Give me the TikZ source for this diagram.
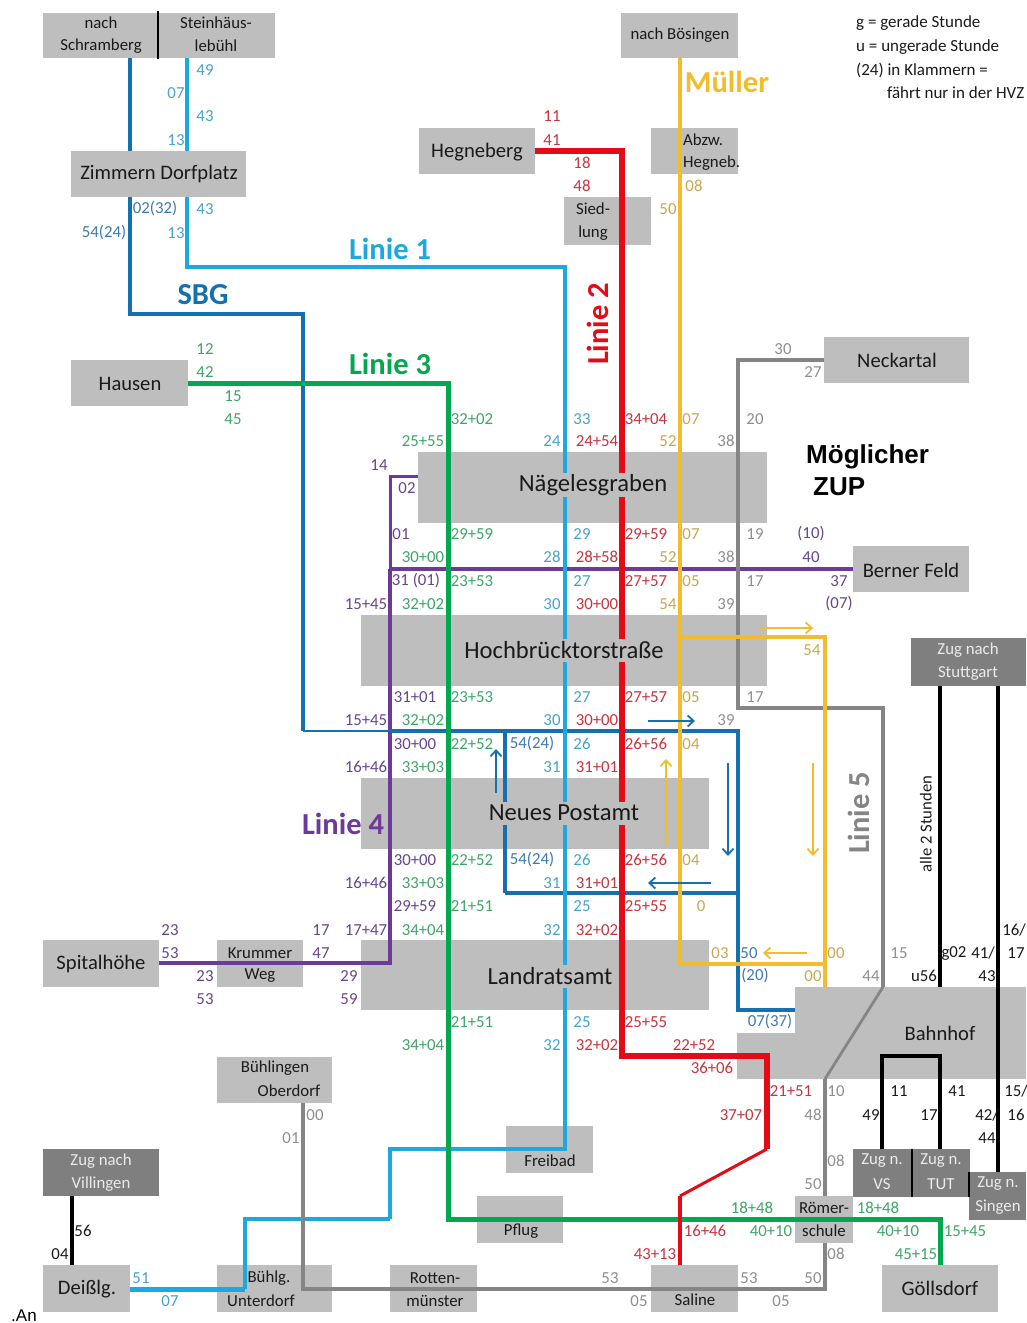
\documentclass[tikz,border=0pt]{standalone}
\usepackage{fontspec}
\setmainfont{Carlito}
\newfontfamily\arialf{Liberation Sans}
\usetikzlibrary{arrows.meta}
\definecolor{cBox}{HTML}{BEBEBE}
\definecolor{cDark}{HTML}{7F7F7F}
\definecolor{cSbg}{HTML}{1570B0}
\definecolor{cLb}{HTML}{1CA9DF}
\definecolor{cRed}{HTML}{E30B17}
\definecolor{cYel}{HTML}{F2BC2C}
\definecolor{cGrn}{HTML}{05A650}
\definecolor{cPur}{HTML}{6C3A98}
\definecolor{cGry}{HTML}{858585}
\definecolor{tb}{HTML}{3F79AC}
\definecolor{tl}{HTML}{45A3CC}
\definecolor{tr}{HTML}{C5343F}
\definecolor{ty}{HTML}{C6A650}
\definecolor{tg}{HTML}{3FA468}
\definecolor{tp}{HTML}{65468E}
\definecolor{ta}{HTML}{8E8E8E}
\definecolor{tk}{HTML}{1A1A1A}
\tikzset{
  box/.style={draw=none,fill=cBox,inner sep=0pt,outer sep=0pt},
  darkbox/.style={draw=none,fill=cDark,inner sep=0pt,outer sep=0pt},
  num/.style={inner sep=0pt,font=\fontsize{16.8}{17}\selectfont},
  stn/.style={inner sep=0pt,text=tk,font=\fontsize{16.8}{17}\selectfont},
  bigstn/.style={inner sep=1pt,minimum height=23pt,fill=cBox,text=tk,font=\fontsize{24.6}{25}\selectfont},
  midstn/.style={inner sep=0pt,text=tk,font=\fontsize{20.6}{21}\selectfont},
  wstn/.style={inner sep=0pt,text=white!92!black,font=\fontsize{16.8}{17}\selectfont},
  linelbl/.style={inner sep=0pt,font=\fontsize{30.5}{31}\selectfont\bfseries},
  legend/.style={inner sep=0pt,anchor=west,text=tk,font=\fontsize{17}{17}\selectfont},
  rt/.style={line width=#1,line cap=butt,line join=miter},
  arr/.style={line width=1.8pt,-{Straight Barb[length=6pt,width=11pt,line width=1.8pt]}}
}
\newcounter{lab}
\newcommand\bx[6][box]{%
  \pgfmathsetmacro\bw{#5-#3}\pgfmathsetmacro\bh{#6-#4}%
  \node[#1,minimum width=\bw pt,minimum height=\bh pt] (#2) at ({(#3+#5)/2},{(#4+#6)/2}) {};}
\newcommand\lrow[2]{%
  \foreach \xx/\cc/\tt in {#2}{%
    \stepcounter{lab}%
    \node[num,text=\cc] (t\thelab) at (\xx,#1) {\tt};}}
\newcommand\arw[6]{%
  \coordinate (#1a) at (#3,#4);\coordinate (#1b) at (#5,#6);
  \draw[arr,#2] (#1a) -- (#1b);}
\begin{document}
\begin{tikzpicture}[x=1pt,y=-1pt]
\useasboundingbox (0,0) rectangle (1026,1323);
% ---------- boxes
\bx{bSchr}{43}{13}{158}{58}
\bx{bStein}{158}{13}{275}{58}
\bx{bZim}{71}{151}{246}{197}
\bx{bHausen}{71}{360}{188}{406}
\bx{bHeg}{419}{128}{535}{174}
\bx{bBoes}{621}{13}{738}{58}
\bx{bAbzw}{651}{128}{738}{174}
\bx{bSied}{564}{197}{651}{245}
\bx{bNeck}{824}{337}{969}{383}
\bx{bNaeg}{418}{452}{767}{523}
\bx{bBern}{853}{546}{969}{592}
\bx{bHoch}{361}{615}{767}{686}
\bx{bPost}{361}{778}{709}{849}
\bx{bLand}{361}{940}{709}{1010}
\bx{bSpit}{43}{940}{159}{987}
\bx{bKrum}{217}{940}{303}{987}
\bx{bBhf}{795}{987}{1026}{1079}
\bx{bBhfb}{737}{1033}{795}{1079}
\bx{bObd}{217}{1057}{332}{1103}
\bx{bFrei}{506}{1126}{593}{1173}
\bx{bPflug}{477}{1196}{563}{1243}
\bx{bRoem}{795}{1196}{853}{1243}
\bx{bDeis}{43}{1265}{130}{1312}
\bx{bUnt}{217}{1265}{332}{1312}
\bx{bRott}{390}{1265}{477}{1312}
\bx{bSal}{651}{1265}{738}{1312}
\bx{bGoel}{882}{1265}{998}{1312}
\bx[darkbox]{bStu}{911}{638}{1026}{686}
\bx[darkbox]{bVil}{43}{1149}{159}{1196}
\bx[darkbox]{bVS}{853}{1149}{912}{1197}
\bx[darkbox]{bTUT}{912}{1149}{970}{1197}
\bx[darkbox]{bSing}{969}{1172}{1026}{1220}
% dividers between neighbouring boxes
\coordinate (d1a) at (158,11);\coordinate (d1b) at (158,59);
\draw[rt=1.2pt,black] (d1a) -- (d1b);
\draw[rt=1.2pt,black] (bVS.north east) -- (bVS.south east);
\draw[rt=1.2pt,black] (bSing.north west) -- (bSing.north west |- bTUT.south);
% ---------- waypoints
\foreach \n/\x/\y in {s1/130/100,s2/130/314,s3/303/314,s4/303/731,s4b/390/731,s5/738/731,s6/738/1010,s7/505/731,s8/505/893,s9/738/893,
  l1/187/100,l2/187/267,l3/565/267,l4/565/1149,l5/390/1149,l6/390/1219,l7/245/1219,l8/245/1289,
  g1/448/383,g2/448/1219,g3/940/1219,
  r1/622/151,r2/622/1056,r3/767/1056,r4/767/1149,r5/680/1196,
  y1/680/100,y2/680/964,y3/825/964,y4/680/637,y5/825/637,
  p1/390/476,p2/390/569,p3/390/963,
  e1/738/360,e2/738/708,e3/883/708,e4/883/987,e5/825/1079,e6/825/1289,e7/303/1289,
  k1/940/800,k2/998/800,k3/882/1056,k4/940/1056,k5/72/1230}
  {\coordinate (\n) at (\x,\y);}
% ---------- routes
\draw[rt=4pt,cPur] (bSpit.east |- p3) -- (p3) -- (p2);
\draw[rt=3pt,cPur] (p2) -- (p1) -- (bNaeg.west |- p1);
\draw[rt=3.5pt,cPur] (p2) -- (bBern.west |- p2);
\draw[rt=4pt,cGry] (bNeck.west) -- (e1) -- (e2) -- (e3) -- (e4);
\draw[rt=2.8pt,cGry] (e4) -- (e5);
\draw[rt=3.5pt,cGry] (e5) -- (bRoem.north -| e5);
\draw[rt=4pt,cSbg] (bSchr.south -| s1) -- (bZim.north -| s1);
\draw[rt=4pt,cSbg] (bZim.south -| s1) -- (s2) -- (s3) -- (s4);
\draw[rt=2pt,cSbg] (s4) -- (s4b);
\draw[rt=3.5pt,cSbg] (s4b) -- (s5) -- (s6) -- (bBhf.west |- s6);
\draw[rt=4.5pt,cSbg] (s7) -- (s8);
\draw[rt=3.5pt,cSbg] (s8) -- (s9);
\draw[rt=4pt,cLb] (bStein.south -| l1) -- (bZim.north -| l1);
\draw[rt=4pt,cLb] (bZim.south -| l1) -- (l2) -- (l3) -- (l4) -- (l5) -- (l6);
\draw[rt=4pt,cLb] (l6) -- (l7) -- (l8);
\draw[rt=5pt,cLb] (l8) -- (bDeis.east |- l8);
\draw[rt=5pt,cGrn] (bHausen.east) -- (g1) -- (g2) -- (g3) -- (bGoel.north);
\draw[rt=4.5pt,cYel] (bBoes.south -| y1) -- (y2) -- (y3);
\draw[rt=4.5pt,cYel] (y4) -- (y5) -- (bBhf.north -| y5);
\draw[rt=6pt,cRed] (bHeg.east) -- (r1) -- (r2) -- (r3) -- (r4);
\draw[rt=3pt,cRed] (r4) -- (r5);
\draw[rt=4.5pt,cRed] (r5) -- (bSal.north -| r5);
\draw[rt=4pt,cGry] (bRoem.south -| e6) -- (e6) -- (e7) -- (bObd.south -| e7);
\draw[rt=4.5pt,black] (bStu.south -| k1) -- (bBhf.north -| k1);
\draw[rt=4pt,black] (bStu.south -| k2) -- (bSing.north -| k2);
\draw[rt=4.5pt,black] (bVS.north -| k3) -- (k3) -- (k4) -- (bTUT.north -| k4);
\draw[rt=4pt,black] (bVil.south -| k5) -- (bDeis.north -| k5);
% ---------- direction arrows
\arw{a1}{cSbg}{648}{721}{695}{721}
\arw{a2}{cSbg}{496}{793}{496}{749}
\arw{a3}{cSbg}{728}{763}{728}{856}
\arw{a4}{cSbg}{711}{883}{648}{883}
\arw{a5}{cYel}{760}{628}{813}{628}
\arw{a6}{cYel}{666}{846}{666}{759}
\arw{a7}{cYel}{813}{763}{813}{856}
\arw{a8}{cYel}{807}{953}{763}{953}
% ---------- station names
\node[bigstn] (nNaeg) at (593,485) {Nägelesgraben};
\node[bigstn] (nHoch) at (564,650) {Hochbrücktorstraße};
\node[bigstn] (nPost) at (564,813) {Neues Postamt};
\node[bigstn] (nLand) at (550,976) {Landratsamt};
\node[midstn] (nBhf) at (940,1033) {Bahnhof};
\node[midstn] (nHeg) at (477,152) {Hegneberg};
\node[midstn] (nHau) at (130,384) {Hausen};
\node[midstn] (nNeck) at (897,360) {Neckartal};
\node[midstn] (nBern) at (911,570) {Berner Feld};
\node[midstn] (nSpit) at (101,964) {Spitalhöhe};
\node[midstn] (nDeis) at (87,1289) {Deißlg.};
\node[midstn] (nGoel) at (940,1288) {Göllsdorf};
\node[midstn] (nZim) at (159,174) {Zimmern Dorfplatz};
\node[stn] (nSch1) at (101,23) {nach};
\node[stn] (nSch2) at (101,46) {Schramberg};
\node[stn] (nSt1) at (216,23) {Steinhäus-};
\node[stn] (nSt2) at (216,46) {lebühl};
\node[stn] (nBoes) at (680,35) {nach Bösingen};
\node[stn,anchor=west] (nAb1) at (683,140) {Abzw.};
\node[stn,anchor=west] (nAb2) at (683,163) {Hegneb.};
\node[stn] (nSi1) at (593,209) {Sied-};
\node[stn] (nSi2) at (593,233) {lung};
\node[stn] (nKr1) at (260,953) {Krummer};
\node[stn] (nKr2) at (260,976) {Weg};
\node[stn] (nOb1) at (275,1068) {Bühlingen};
\node[stn] (nOb2) at (289,1091) {Oberdorf};
\node[stn] (nFr) at (550,1161) {Freibad};
\node[stn] (nPf) at (521,1231) {Pflug};
\node[stn] (nRo1) at (824,1208) {Römer-};
\node[stn] (nRo2) at (824,1231) {schule};
\node[stn] (nBu1) at (269,1278) {Bühlg.};
\node[stn] (nBu2) at (261,1301) {Unterdorf};
\node[stn] (nRt1) at (435,1278) {Rotten-};
\node[stn] (nRt2) at (435,1301) {münster};
\node[stn] (nSal) at (695,1300) {Saline};
\node[wstn] (wSt1) at (968,650) {Zug nach};
\node[wstn] (wSt2) at (968,673) {Stuttgart};
\node[wstn] (wVi1) at (101,1161) {Zug nach};
\node[wstn] (wVi2) at (101,1184) {Villingen};
\node[wstn] (wVS1) at (882,1161) {Zug n.};
\node[wstn] (wVS2) at (882,1184) {VS};
\node[wstn] (wTU1) at (941,1161) {Zug n.};
\node[wstn] (wTU2) at (941,1184) {TUT};
\node[wstn] (wSi1) at (998,1184) {Zug n.};
\node[wstn] (wSi2) at (998,1207) {Singen};
% ---------- line names
\node[linelbl,text=cLb] (ln1) at (390,249) {Linie 1};
\node[linelbl,text=cSbg] (ln0) at (203,295) {SBG};
\node[linelbl,text=cGrn] (ln3) at (390,364) {Linie 3};
\node[linelbl,text=cRed,rotate=90] (ln2) at (598,324) {Linie 2};
\node[linelbl,text=cPur] (ln4) at (343,824) {Linie 4};
\node[linelbl,text=cGry,rotate=90] (ln5) at (859,813) {Linie 5};
\node[linelbl,text=cYel] (lnM) at (727,82) {Müller};
% ---------- legend and notes
\node[legend] (g1t) at (856,23) {g = gerade Stunde};
\node[legend] (g2t) at (856,47) {u = ungerade Stunde};
\node[legend] (g3t) at (856,70) {(24) in Klammern =};
\node[legend] (g4t) at (887,93) {fährt nur in der HVZ};
\node[inner sep=0pt,anchor=west,font=\arialf\bfseries\fontsize{26}{26}\selectfont] (zup1) at (806,457) {Möglicher};
\node[inner sep=0pt,anchor=west,font=\arialf\bfseries\fontsize{26}{26}\selectfont] (zup2) at (813,487) {ZUP};
\node[inner sep=0pt,rotate=90,text=tk,font=\fontsize{16.7}{17}\selectfont] (zw) at (926,824) {alle 2 Stunden};
\node[inner sep=0pt,anchor=base west,font=\arialf\fontsize{17}{17}\selectfont] (an) at (11,1321) {.An};
% ---------- times
\lrow{70}{205/tl/49}
\lrow{93}{176/tl/07}
\lrow{116}{205/tl/43,552/tr/11}
\lrow{140}{176/tl/13,552/tr/41}
\lrow{163}{582/tr/18}
\lrow{186}{582/tr/48,694/ty/08}
\lrow{209}{155/tb/02(32),205/tl/43,668/ty/50}
\lrow{233}{104/tb/54(24),176/tl/13}
\lrow{349}{205/tg/12,783/ta/30}
\lrow{372}{205/tg/42,813/ta/27}
\lrow{396}{233/tg/15}
\lrow{419}{233/tg/45,472/tg/32+02,582/tl/33,646/tr/34+04,691/ty/07,755/ta/20}
\lrow{441}{423/tg/25+55,552/tl/24,597/tr/24+54,668/ty/52,726/ta/38}
\lrow{465}{379/tp/14}
\lrow{488}{407/tp/02}
\lrow{534}{401/tp/01,472/tg/29+59,582/tl/29,646/tr/29+59,691/ty/07,755/ta/19,811/tp/(10)}
\lrow{557}{423/tg/30+00,552/tl/28,597/tr/28+58,668/ty/52,726/ta/38,811/tp/40}
\lrow{581}{416/tp/{31 (01)},472/tg/23+53,582/tl/27,646/tr/27+57,691/ty/05,755/ta/17,839/tp/37}
\lrow{604}{366/tp/15+45,423/tg/32+02,552/tl/30,597/tr/30+00,668/ty/54,726/ta/39,839/tp/(07)}
\lrow{650}{812/ty/54}
\lrow{697}{415/tp/31+01,472/tg/23+53,582/tl/27,646/tr/27+57,691/ty/05,755/ta/17}
\lrow{720}{366/tp/15+45,423/tg/32+02,552/tl/30,597/tr/30+00,726/ta/39}
\lrow{744}{415/tp/30+00,472/tg/22+52,532/tb/54(24),582/tl/26,646/tr/26+56,691/ty/04}
\lrow{767}{366/tp/16+46,423/tg/33+03,552/tl/31,597/tr/31+01}
\lrow{860}{415/tp/30+00,472/tg/22+52,532/tb/54(24),582/tl/26,646/tr/26+56,691/ty/04}
\lrow{883}{366/tp/16+46,423/tg/33+03,552/tl/31,597/tr/31+01}
\lrow{906}{415/tp/29+59,472/tg/21+51,582/tl/25,646/tr/25+55,701/ty/0}
\lrow{930}{170/tp/23,321/tp/17,366/tp/17+47,423/tg/34+04,552/tl/32,597/tr/32+02,1014/tk/{16/}}
\lrow{953}{170/tp/53,321/tp/47,720/ty/03,749/tb/50,836/ty/00,899/ta/15,954/tk/g02,983/tk/{41/},1016/tk/17}
\lrow{976}{205/tp/23,349/tp/29,755/tb/(20),813/ty/00,871/ta/44,924/tk/u56,987/tk/43}
\lrow{999}{205/tp/53,349/tp/59}
\lrow{1022}{472/tg/21+51,582/tl/25,646/tr/25+55,770/tb/07(37)}
\lrow{1045}{423/tg/34+04,552/tl/32,597/tr/32+02,694/tr/22+52}
\lrow{1068}{712/tr/36+06}
\lrow{1091}{791/tr/21+51,836/ta/10,899/tk/11,957/tk/41,1016/tk/{15/}}
\lrow{1115}{315/ta/00,741/tr/37+07,813/ta/48,871/tk/49,929/tk/17,987/tk/{42/},1016/tk/16}
\lrow{1138}{291/ta/01,987/tk/44}
\lrow{1161}{836/ta/08}
\lrow{1184}{813/ta/50}
\lrow{1208}{752/tg/18+48,878/tg/18+48}
\lrow{1231}{83/tk/56,705/tr/16+46,771/tg/40+10,898/tg/40+10,965/tg/15+45}
\lrow{1254}{60/tk/04,655/tr/43+13,836/ta/08,916/tg/45+15}
\lrow{1278}{141/tl/51,610/ta/53,749/ta/53,813/ta/50}
\lrow{1301}{170/tl/07,639/ta/05,781/ta/05}
\end{tikzpicture}
\end{document}
